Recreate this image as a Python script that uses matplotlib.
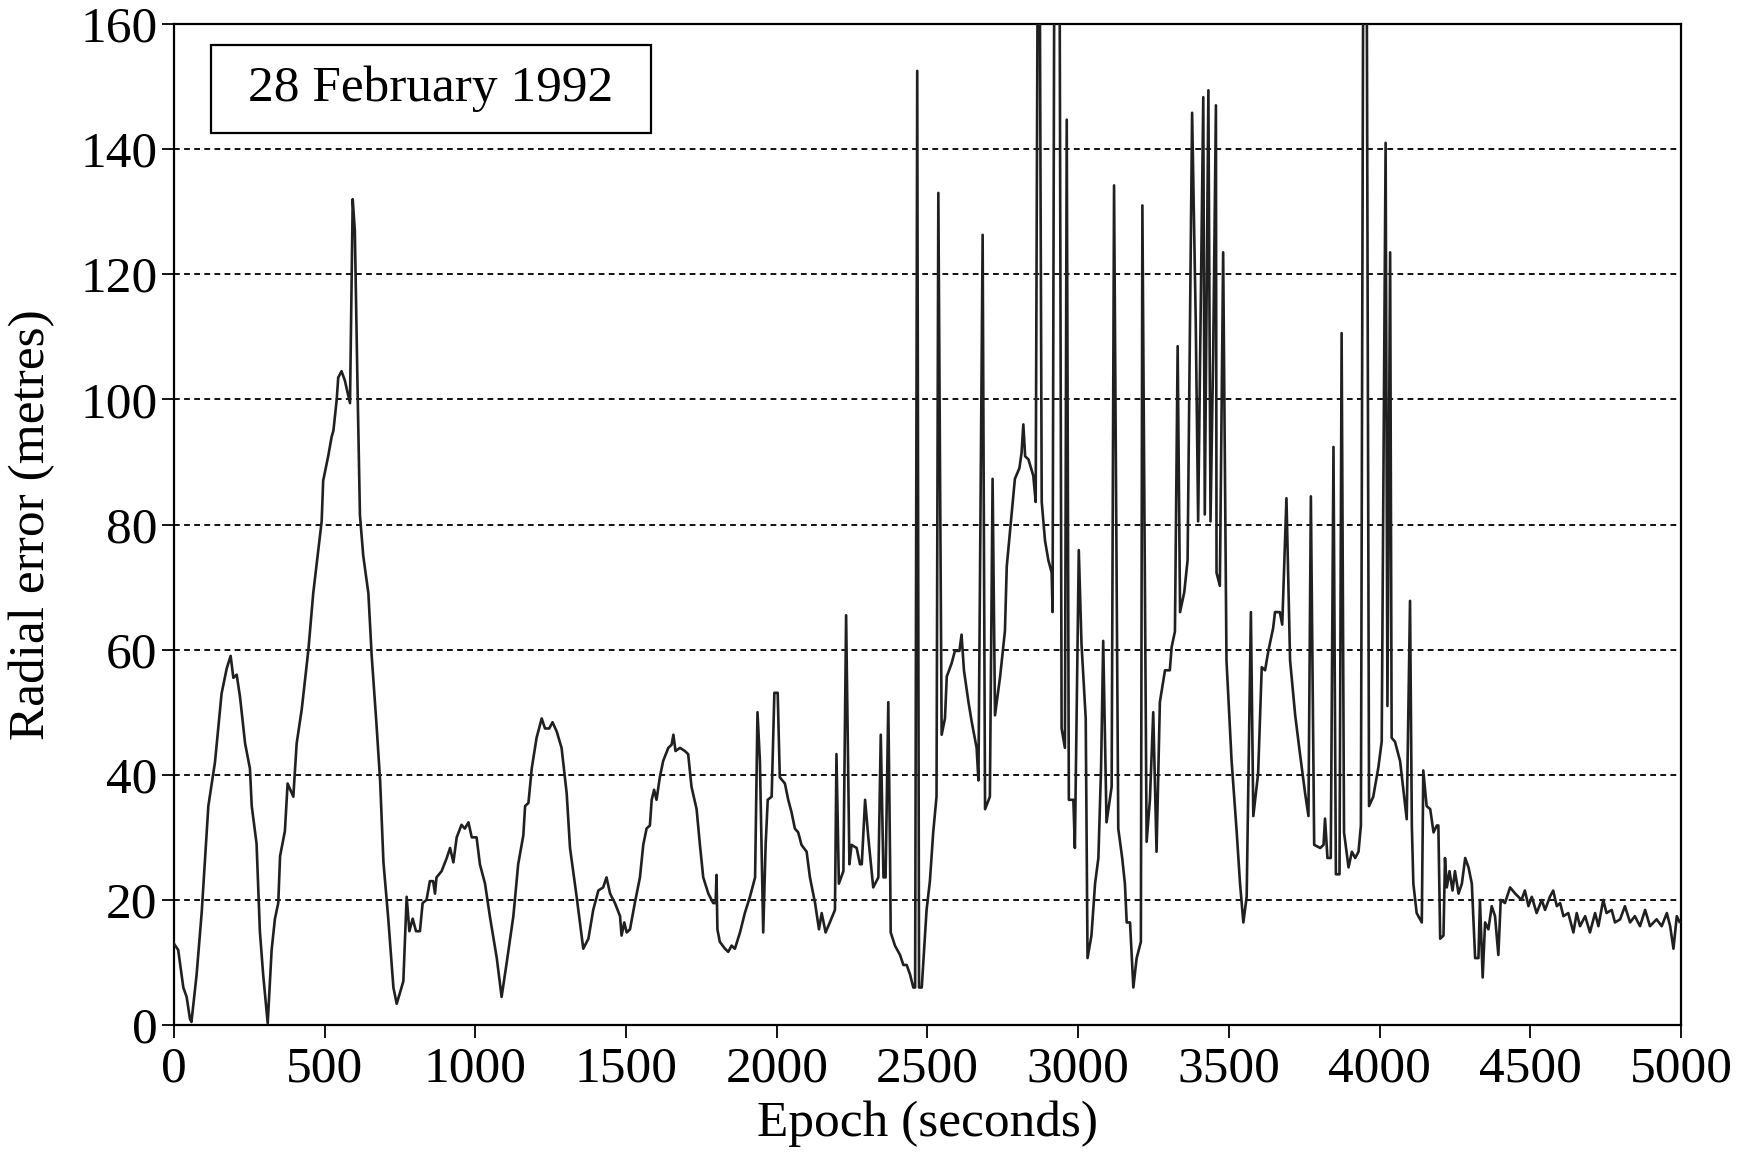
import matplotlib
matplotlib.use("Agg")
import matplotlib.pyplot as plt
from matplotlib.patches import Rectangle

# Radial position error of the receiver, one sample per epoch
epoch = [
    0, 14, 31, 42, 53, 58, 75, 92, 114, 136, 158, 175, 188, 197, 208, 219, 236, 252, 258, 274,
    285, 296, 311, 324, 335, 346, 352, 368, 377, 396, 407, 424, 446, 462, 479, 490, 495, 512,
    523, 529, 540, 545, 556, 567, 584, 593, 600, 609, 617, 628, 645, 656, 672, 684, 695, 711,
    728, 739, 761, 772, 781, 792, 803, 816, 825, 838, 849, 860, 866, 871, 888, 905, 916, 927,
    938, 954, 965, 977, 988, 1004, 1015, 1032, 1048, 1071, 1087, 1104, 1126, 1142, 1159, 1165,
    1176, 1187, 1203, 1220, 1231, 1245, 1256, 1270, 1286, 1303, 1314, 1336, 1358, 1375, 1391,
    1408, 1424, 1435, 1447, 1463, 1480, 1485, 1494, 1502, 1513, 1529, 1546, 1557, 1568, 1579,
    1585, 1593, 1601, 1612, 1623, 1640, 1651, 1657, 1664, 1679, 1695, 1706, 1717, 1734, 1745,
    1756, 1773, 1789, 1797, 1800, 1803, 1811, 1828, 1839, 1850, 1861, 1878, 1894, 1911, 1928,
    1936, 1944, 1955, 1963, 1970, 1983, 1992, 2003, 2010, 2027, 2038, 2049, 2060, 2071, 2082,
    2099, 2110, 2127, 2140, 2149, 2162, 2176, 2193, 2198, 2206, 2221, 2230, 2241, 2248, 2265,
    2276, 2282, 2293, 2304, 2320, 2337, 2345, 2354, 2361, 2370, 2376, 2378, 2392, 2409, 2420,
    2431, 2442, 2453, 2459, 2466, 2472, 2481, 2497, 2508, 2519, 2530, 2536, 2547, 2558, 2564,
    2580, 2591, 2606, 2613, 2621, 2636, 2647, 2663, 2669, 2683, 2691, 2707, 2716, 2724, 2741,
    2757, 2763, 2779, 2790, 2805, 2812, 2818, 2824, 2835, 2851, 2859, 2866, 2872, 2879, 2890,
    2901, 2912, 2915, 2921, 2930, 2938, 2945, 2956, 2962, 2969, 2984, 2989, 3002, 3011, 3025,
    3031, 3044, 3056, 3067, 3076, 3083, 3094, 3111, 3119, 3133, 3146, 3155, 3161, 3172, 3183,
    3194, 3208, 3213, 3227, 3238, 3249, 3260, 3271, 3288, 3304, 3310, 3321, 3330, 3338, 3352,
    3363, 3378, 3390, 3398, 3415, 3420, 3432, 3439, 3448, 3457, 3459, 3470, 3481, 3492, 3509,
    3526, 3537, 3548, 3559, 3573, 3581, 3597, 3609, 3620, 3631, 3647, 3653, 3669, 3677, 3691,
    3703, 3720, 3736, 3753, 3764, 3772, 3783, 3803, 3814, 3819, 3827, 3838, 3847, 3855, 3867,
    3874, 3882, 3897, 3908, 3919, 3930, 3938, 3946, 3957, 3965, 3979, 3996, 4007, 4020, 4026,
    4035, 4040, 4051, 4068, 4079, 4090, 4101, 4107, 4112, 4123, 4140, 4145, 4156, 4168, 4179,
    4190, 4195, 4201, 4212, 4217, 4223, 4232, 4242, 4250, 4262, 4273, 4284, 4295, 4306, 4317,
    4328, 4333, 4342, 4350, 4361, 4372, 4383, 4394, 4402, 4416, 4433, 4450, 4471, 4482, 4494,
    4505, 4521, 4538, 4549, 4565, 4576, 4588, 4599, 4610, 4626, 4643, 4654, 4665, 4682, 4698,
    4715, 4726, 4742, 4753, 4770, 4781, 4798, 4814, 4831, 4847, 4864, 4881, 4897, 4919, 4936,
    4953, 4964, 4975, 4986, 4995,
]
radial_error = [
    13, 12, 6, 4.5, 1, 0.5, 8, 18, 35, 42, 53, 57, 59, 55.5, 56, 52.5, 45, 41, 35, 29,
    15, 8, 0.3, 12, 17, 19.5, 27, 31, 38.6, 36.5, 45, 50.5, 60, 69, 76, 80.5, 87, 91,
    94, 95, 100, 103.5, 104.5, 103, 99.4, 132, 127, 102, 81.5, 75, 69, 59, 48, 39, 26, 17,
    6, 3.4, 7, 20.5, 15, 17, 15, 15, 19.5, 20, 23, 23, 21, 23.6, 24.6, 26.7, 28.3, 26,
    30, 32, 31.4, 32.4, 30, 30, 25.7, 22.6, 17.4, 10.7, 4.5, 10, 17.4, 25.7, 30.3, 35,
    35.5, 41, 45.9, 49, 47.4, 47.4, 48.4, 46.9, 44.3, 37, 28.3, 20.5, 12.2, 13.8, 18.4,
    21.5, 22, 23.6, 21, 19.5, 17.4, 14.3, 16.4, 14.8, 15.3, 19.5, 23.6, 28.8, 31.4, 31.9,
    36, 37.6, 36, 39.6, 42.2, 44.3, 44.8, 46.4, 43.8, 44.3, 43.8, 43.3, 38.1, 34.5, 28.8,
    23.6, 21, 19.5, 19.5, 24, 15.3, 13.3, 12.2, 11.7, 12.7, 12.2, 14.8, 17.9, 20.5, 23.6,
    50, 42.2, 14.8, 28.8, 36, 36.5, 53.1, 53.1, 39.6, 38.6, 36, 34, 31.4, 30.8, 28.8,
    27.7, 23.6, 19.5, 15.3, 17.9, 14.8, 16.4, 18.4, 43.3, 22.6, 24.6, 65.5, 25.7, 28.8, 28.3,
    25.7, 25.7, 36, 29.8, 22, 23.6, 46.4, 23.6, 23.6, 51.6, 25.7, 14.8, 12.7, 11.2, 9.6,
    9.6, 8.1, 6, 6, 152.5, 6, 6, 18.4, 23, 30.8, 36.5, 133, 46.4, 49, 55.7,
    57.8, 59.8, 59.8, 62.4, 56.7, 51.6, 48.4, 44.3, 39.1, 126.3, 34.5, 36.5, 87.3, 49.5, 55.7,
    63, 73.3, 81.6, 87.3, 89, 91.4, 96, 90.9, 90.4, 87.8, 83.6, 175, 175, 83.6, 77.4,
    74.3, 72.3, 66, 175, 175, 175, 47.4, 44.3, 144.7, 36, 36, 28.3, 75.9, 60.9, 49,
    10.7, 14.3, 22.6, 26.7, 41.2, 61.4, 32.4, 38.1, 134.2, 31.4, 26.7, 22.6, 16.4, 16.4, 6,
    10.7, 13.3, 131, 29.3, 36, 50, 27.7, 51.6, 56.7, 56.7, 60.4, 62.9, 108.5, 66, 69.2,
    74.3, 145.8, 112.6, 80.5, 148.3, 81.6, 149.4, 80.5, 107.5, 147, 72.3, 70.2, 123.5, 58.3, 42.2,
    30.8, 22.6, 16.4, 20.5, 66, 33.4, 40.2, 57.2, 56.7, 59.8, 63.5, 66, 66, 64, 84.2,
    58.3, 49.5, 43.3, 37, 33.4, 84.5, 28.8, 28.3, 28.8, 33, 26.7, 26.7, 92.4, 24.1, 24.1,
    110.6, 30.8, 25.2, 27.7, 26.7, 27.7, 31.9, 175, 175, 35, 36.5, 41.2, 45.3, 141, 51,
    123.5, 45.9, 45.3, 42.2, 37.6, 32.9, 67.8, 31.9, 22.6, 17.9, 16.4, 40.7, 35, 34.5, 30.8,
    31.9, 31.9, 13.8, 14.3, 26.7, 22, 24.6, 21.5, 24.6, 21, 22.6, 26.7, 25.2, 22.6, 10.7,
    10.7, 20, 7.6, 16.4, 15.3, 19, 17.4, 11.2, 20, 19.5, 22, 21, 20, 21.5, 19,
    20.5, 17.9, 20, 18.4, 20.5, 21.5, 19, 19.5, 17.4, 17.9, 14.8, 17.9, 15.8, 17.4, 14.8,
    17.9, 15.8, 20, 17.9, 18.4, 16.4, 16.9, 19, 16.4, 17.4, 15.8, 18.4, 15.8, 16.9, 15.8,
    17.9, 15.8, 12.2, 17.4, 16.5,
]

x_ticks = [0, 500, 1000, 1500, 2000, 2500, 3000, 3500, 4000, 4500, 5000]
y_ticks = [0, 20, 40, 60, 80, 100, 120, 140, 160]
grid_levels = [20, 40, 60, 80, 100, 120, 140]
date_label = "28 February 1992"

plt.rcParams["font.family"] = ["Liberation Serif", "DejaVu Serif"]
FS = 37

fig = plt.figure(figsize=(17.38, 11.52), dpi=100)
ax = fig.add_axes([0.1001, 0.1102, 0.8671, 0.8690])

for lvl in grid_levels:
    ax.axhline(lvl, color="black", lw=1.3, ls=(0, (3.2, 2.4)), zorder=1)

ax.plot(epoch, radial_error, color="#202020", lw=1.9, zorder=3)

ax.set_xlim(0, 5000)
ax.set_ylim(0, 160)
ax.set_xticks(x_ticks)
ax.set_yticks(y_ticks)
ax.tick_params(axis="both", direction="out", length=9, width=1.3,
               labelsize=FS, pad=6, colors="black")
ax.tick_params(axis="y", pad=3)
for sp in ax.spines.values():
    sp.set_linewidth(1.6)
    sp.set_color("black")

ax.set_xlabel("Epoch (seconds)", fontsize=FS, labelpad=6)
ax.set_ylabel("Radial error (metres)", fontsize=FS, labelpad=18)

# Date box in the upper left corner
ax.add_patch(Rectangle((0.0245, 0.891), 0.292, 0.088, transform=ax.transAxes,
                       fill=False, edgecolor="black", lw=1.6, zorder=4))
ax.text(0.1705, 0.935, date_label, transform=ax.transAxes, fontsize=FS,
        ha="center", va="center", zorder=5)

fig.savefig("out.png", dpi=100, facecolor="white")
